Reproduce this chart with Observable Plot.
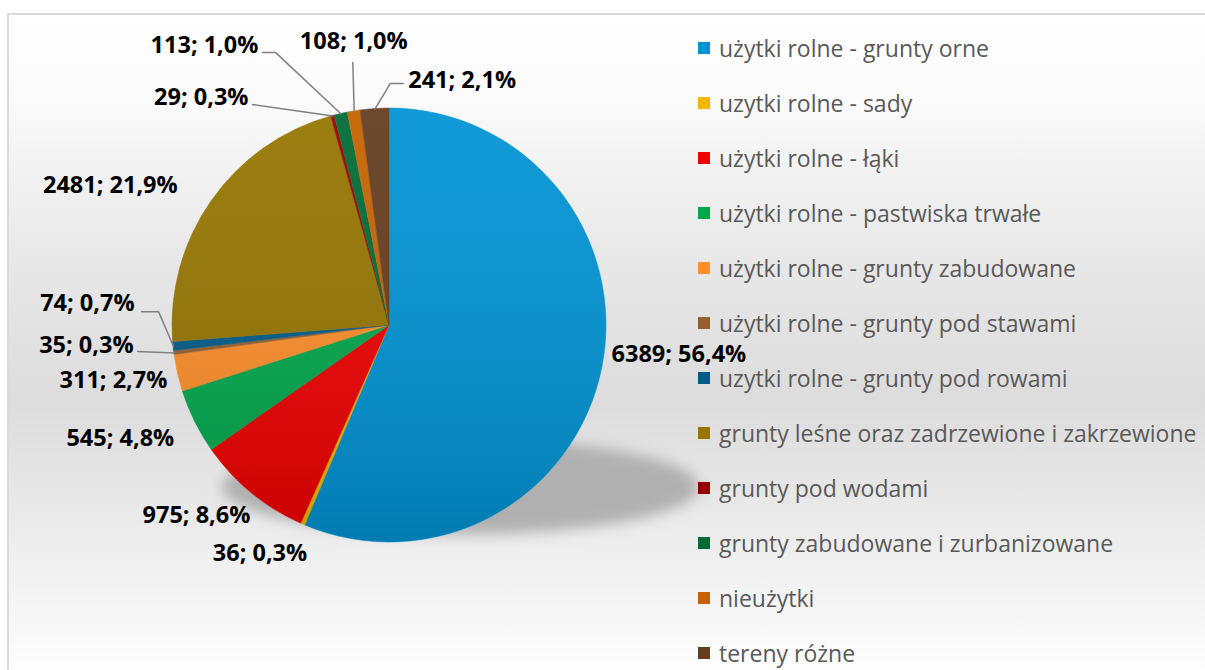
<!DOCTYPE html>
<html><head><meta charset="utf-8">
<script src="https://cdn.jsdelivr.net/npm/d3@7"></script>
<script src="https://cdn.jsdelivr.net/npm/@observablehq/plot@0.6"></script>
<style>
body{margin:0;background:#fff;font-family:"Open Sans",sans-serif;}
#wrap{position:relative;width:1205px;height:670px;overflow:hidden;}
#frame{position:absolute;left:7px;top:13px;width:1210px;height:670px;border:2px solid #d9d9d9;box-sizing:border-box;
  background:linear-gradient(to bottom,#ffffff 0%,#fbfbfb 12%,#e9e9e9 35%,#dcdcdc 58%,#ececec 78%,#ffffff 100%);}
#chart{position:absolute;left:0;top:0;}
#legend{position:absolute;left:698px;top:20px;}
#legend .lg-swatches-wrap{display:flex;flex-direction:column;align-items:flex-start;flex-wrap:nowrap;margin:0;min-height:0;}
#legend .lg-swatch{display:flex;align-items:center;height:55px;margin:0;font-family:"Open Sans",sans-serif;font-size:23px;color:#595959;white-space:nowrap;}
#legend .lg-swatch svg{margin-right:9px;}
#legend .lg, #legend div{font-family:"Open Sans",sans-serif;}
</style></head>
<body>
<div id="wrap"><div id="frame"></div><div id="chart"></div><div id="legend"></div></div>
<script>
const categories = [
  "użytki rolne - grunty orne",
  "uzytki rolne - sady",
  "użytki rolne - łąki",
  "użytki rolne - pastwiska trwałe",
  "użytki rolne - grunty zabudowane",
  "użytki rolne - grunty pod stawami",
  "uzytki rolne - grunty pod rowami",
  "grunty leśne oraz zadrzewione i zakrzewione",
  "grunty pod wodami",
  "grunty zabudowane i zurbanizowane",
  "nieużytki",
  "tereny różne"
];
const values = [6389, 36, 975, 545, 311, 35, 74, 2481, 29, 113, 108, 241];
const percents = ["56,4%", "0,3%", "8,6%", "4,8%", "2,7%", "0,3%", "0,7%", "21,9%", "0,3%", "1,0%", "1,0%", "2,1%"];
const colors = ["#0093d4", "#f5b800", "#f00000", "#00a84c", "#ff8f2a", "#94602f", "#005b8a", "#957500", "#960000", "#006a33", "#c66200", "#633d1f"];

// label layout: anchor, radius factor, angle shift (deg) from the slice middle
const labelAnchor = ["start", "middle", "middle", "middle", "middle", "end", "end", "middle", "end", "end", "middle", "start"];
const labelRadius = [1.032, 1.208, 1.248, 1.345, 1.297, 1.183, 1.179, 1.439, 1.235, 1.425, 1.319, 1.132];
const labelShift = [-4.0, 6.15, 5.95, 3.6, 1.5, 2.8, 10.45, -8.4, -16.6, -12.2, 2.2, 8.2];
// leader lines (px): start offset from label anchor, horizontal elbow length
const leaderStart = [null, null, null, null, null, [4, 6], [7, 8], null, [4, 7], [4, 7], [-1, 21], [-5, 3]];
const leaderElbow = [0, 0, 0, 0, 0, 0, 17, 0, 0, 13, 0, -13];

const R_PX = 217;
const arcs = d3.pie().sort(null).value(d => d)(values);
const rows = arcs.map((a, i) => {
  const mid = (a.startAngle + a.endAngle) / 2;
  const th = mid + labelShift[i] * Math.PI / 180;
  return {
    i, cat: categories[i], value: values[i], color: colors[i],
    start: a.startAngle, end: a.endAngle, mid,
    label: values[i] + "; " + percents[i],
    lx: labelRadius[i] * Math.sin(th), ly: labelRadius[i] * Math.cos(th),
    anchor: labelAnchor[i]
  };
});
const leaders = [];
rows.forEach(r => {
  const s = leaderStart[r.i];
  if (!s) return;
  const p = 1 / R_PX;
  const sx = r.lx + s[0] * p, sy = r.ly - s[1] * p;
  leaders.push({k: r.i, x: sx, y: sy});
  if (leaderElbow[r.i]) leaders.push({k: r.i, x: sx + leaderElbow[r.i] * p, y: sy});
  leaders.push({k: r.i, x: Math.sin(r.mid), y: Math.cos(r.mid)});
});

function pieMark(index, scales) {
  const cx = scales.x(0), cy = scales.y(0), R = scales.x(1) - cx;
  const g = d3.create("svg:g");
  const defs = g.append("defs");
  defs.append("filter").attr("id", "shblur").attr("x", "-50%").attr("y", "-50%").attr("width", "200%").attr("height", "200%")
    .append("feGaussianBlur").attr("stdDeviation", 7);
  const lg = defs.append("linearGradient").attr("id", "shade").attr("x1", 0).attr("y1", 0).attr("x2", 0).attr("y2", 1);
  lg.append("stop").attr("offset", "0%").attr("stop-color", "#fff").attr("stop-opacity", 0.06);
  lg.append("stop").attr("offset", "100%").attr("stop-color", "#000").attr("stop-opacity", 0.16);
  g.append("ellipse").attr("cx", cx + 0.33 * R).attr("cy", cy + 0.745 * R)
    .attr("rx", 1.1 * R).attr("ry", 0.22 * R).attr("fill", "#b0b0b0").attr("filter", "url(#shblur)");
  const arc = d3.arc().innerRadius(0).outerRadius(R);
  const pg = g.append("g").attr("transform", `translate(${cx},${cy})`);
  pg.selectAll("path").data(rows).join("path")
    .attr("d", d => arc({startAngle: d.start, endAngle: d.end}))
    .attr("fill", d => d.color).attr("stroke", d => d.color).attr("stroke-width", 0.5);
  pg.append("circle").attr("r", R).attr("fill", "url(#shade)");
  return g.node();
}

const textOpts = {fontFamily: "'Open Sans', sans-serif", fontWeight: "bold", fontSize: 23.5, fill: "#000"};
const chart = Plot.plot({
  width: 1205, height: 670, margin: 0,
  x: {domain: [-1, 1], range: [389 - R_PX, 389 + R_PX], axis: null},
  y: {domain: [-1, 1], range: [325 + R_PX, 325 - R_PX], axis: null},
  style: {background: "transparent", overflow: "visible"},
  marks: [
    pieMark,
    Plot.line(leaders, {x: "x", y: "y", z: "k", stroke: "#808080", strokeWidth: 1.5}),
    Plot.text(rows.filter(d => d.anchor === "start"), {x: "lx", y: "ly", text: "label", textAnchor: "start", ...textOpts}),
    Plot.text(rows.filter(d => d.anchor === "middle"), {x: "lx", y: "ly", text: "label", textAnchor: "middle", ...textOpts}),
    Plot.text(rows.filter(d => d.anchor === "end"), {x: "lx", y: "ly", text: "label", textAnchor: "end", ...textOpts})
  ]
});
document.getElementById("chart").appendChild(chart);

const legend = Plot.legend({
  color: {type: "ordinal", domain: categories, range: colors},
  legend: "swatches", swatchSize: 12, className: "lg"
});
document.getElementById("legend").appendChild(legend);
</script>
</body></html>
